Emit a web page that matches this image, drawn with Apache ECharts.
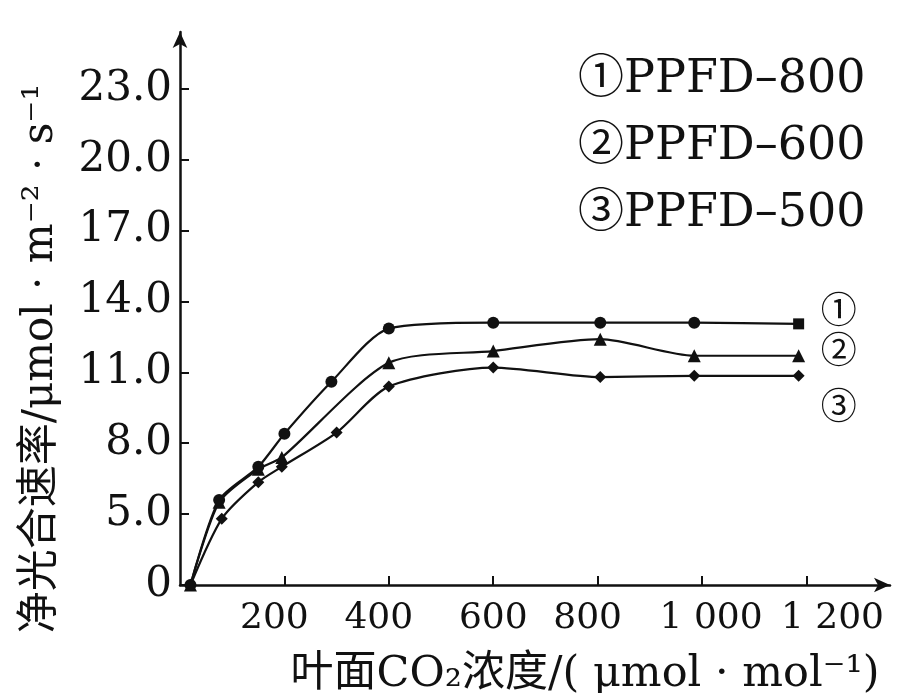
<!DOCTYPE html>
<html>
<head>
<meta charset="utf-8">
<script src="https://cdn.jsdelivr.net/npm/echarts@6/dist/echarts.min.js"></script>
<style>
  html, body { margin: 0; padding: 0; background: #fff; }
  #chart { width: 898px; height: 693px; }
</style>
</head>
<body>
<div id="chart"></div>
<script>
// The figure spaces its y ticks evenly (0 and 5.0 are as far apart as 5.0 and 8.0),
// so the "0" tick sits at 2 on a plain linear scale; values are read on that scale.
const yTickValues = [2, 5, 8, 11, 14, 17, 20, 23];
const yTickLabels = ['0', '5.0', '8.0', '11.0', '14.0', '17.0', '20.0', '23.0'];
const xTickValues = [200, 400, 600, 800, 1000, 1200];
const xTickLabels = ['200', '400', '600', '800', '1 000', '1 200'];

const seriesNames = ['①PPFD–800', '②PPFD–600', '③PPFD–500'];
const endMarks = ['①', '②', '③'];

const ppfd800X = [20, 75, 150, 200, 290, 400, 600, 805, 985, 1185];
const ppfd800Y = [2.0, 5.6, 7.0, 8.4, 10.6, 12.85, 13.1, 13.1, 13.1, 13.05];

const ppfd600X = [20, 75, 150, 195, 400, 600, 805, 985, 1185];
const ppfd600Y = [2.0, 5.5, 6.9, 7.4, 11.4, 11.9, 12.4, 11.7, 11.7];

const ppfd500X = [20, 80, 150, 195, 300, 400, 600, 805, 985, 1185];
const ppfd500Y = [2.0, 4.8, 6.35, 7.0, 8.45, 10.4, 11.2, 10.8, 10.85, 10.85];

const serifFont = "'DejaVu Serif', 'Noto Sans CJK SC', serif";

const chart = echarts.init(document.getElementById('chart'));

function pairs(xs, ys) {
  return xs.map((x, i) => [x, ys[i]]);
}

// the printed x labels sit a little off their ticks; nudge them the same way
function xLabel(v) {
  const text = xTickLabels[xTickValues.indexOf(v)];
  if (v === 1200) return '{far|' + text + '}';
  if (v === 1000) return '{near|' + text + '}';
  if (v === 600) return text;
  return '{left|' + text + '}';
}

function makeSeries(idx, xs, ys, symbol, lastSymbol, labelOffset) {
  const data = pairs(xs, ys).map((p, i) => {
    if (lastSymbol && i === xs.length - 1) {
      return { value: p, symbol: lastSymbol, symbolSize: 11 };
    }
    return p;
  });
  return {
    name: seriesNames[idx],
    type: 'line',
    data: data,
    smooth: 0.25,
    symbol: symbol,
    symbolSize: symbol === 'triangle' ? 13 : 12,
    showAllSymbol: true,
    lineStyle: { color: '#111', width: 2.2 },
    itemStyle: { color: '#111' },
    endLabel: {
      show: true,
      formatter: endMarks[idx],
      color: '#111',
      fontSize: 36,
      fontFamily: serifFont,
      offset: labelOffset
    },
    z: 3 - idx
  };
}

const xLabelStyle = { color: '#111', fontSize: 36, fontFamily: serifFont };

const option = {
  backgroundColor: '#fff',
  animation: false,
  legend: {
    orient: 'vertical',
    left: 568,
    top: 52,
    icon: 'none',
    itemWidth: 0,
    itemHeight: 20,
    itemGap: 21,
    selectedMode: false,
    data: seriesNames,
    textStyle: {
      color: '#111',
      fontSize: 46,
      lineHeight: 46,
      fontFamily: serifFont
    }
  },
  grid: {
    left: 180,
    right: 8,
    top: 32,
    bottom: 108,
    outerBoundsMode: 'none'
  },
  xAxis: {
    type: 'value',
    min: 0,
    max: 1360,
    interval: 200,
    name: '叶面CO₂浓度/( μmol · mol⁻¹)',
    nameLocation: 'middle',
    nameGap: 68,
    nameTextStyle: {
      color: '#111',
      fontSize: 43,
      fontFamily: serifFont,
      padding: [0, 0, 0, 100]
    },
    axisLine: {
      lineStyle: { color: '#111', width: 2.5 },
      symbol: ['none', 'arrow'],
      symbolSize: [11, 16]
    },
    axisTick: {
      inside: true,
      length: 9,
      customValues: xTickValues,
      lineStyle: { color: '#111', width: 2 }
    },
    axisLabel: {
      customValues: xTickValues,
      formatter: xLabel,
      hideOverlap: false,
      showMinLabel: true,
      showMaxLabel: true,
      color: '#111',
      fontSize: 36,
      fontFamily: serifFont,
      margin: 16,
      rich: {
        left: Object.assign({ padding: [0, 20, 0, 0] }, xLabelStyle),
        near: Object.assign({ padding: [0, 0, 0, 18] }, xLabelStyle),
        far: Object.assign({ padding: [0, 0, 0, 52] }, xLabelStyle)
      }
    },
    splitLine: { show: false }
  },
  yAxis: {
    type: 'value',
    min: 2,
    max: 25.4,
    interval: 3,
    name: '净光合速率/μmol · m⁻² · s⁻¹',
    nameLocation: 'middle',
    nameGap: 118,
    nameRotate: 90,
    nameTextStyle: {
      color: '#111',
      fontSize: 42,
      fontFamily: serifFont,
      padding: [0, 100, 0, 0]
    },
    axisLine: {
      show: true,
      lineStyle: { color: '#111', width: 2.5 },
      symbol: ['none', 'arrow'],
      symbolSize: [11, 16]
    },
    axisTick: {
      show: true,
      inside: true,
      length: 9,
      customValues: yTickValues,
      lineStyle: { color: '#111', width: 2 }
    },
    axisLabel: {
      customValues: yTickValues,
      formatter: (v) => yTickLabels[yTickValues.indexOf(v)],
      hideOverlap: false,
      showMinLabel: true,
      showMaxLabel: true,
      color: '#111',
      fontSize: 42,
      fontFamily: serifFont,
      margin: 8
    },
    splitLine: { show: false }
  },
  series: [
    makeSeries(0, ppfd800X, ppfd800Y, 'circle', 'rect', [14, -10]),
    makeSeries(1, ppfd600X, ppfd600Y, 'triangle', null, [14, -2]),
    makeSeries(2, ppfd500X, ppfd500Y, 'diamond', null, [14, 34])
  ]
};

chart.setOption(option);
window.addEventListener('resize', () => chart.resize());
</script>
</body>
</html>
